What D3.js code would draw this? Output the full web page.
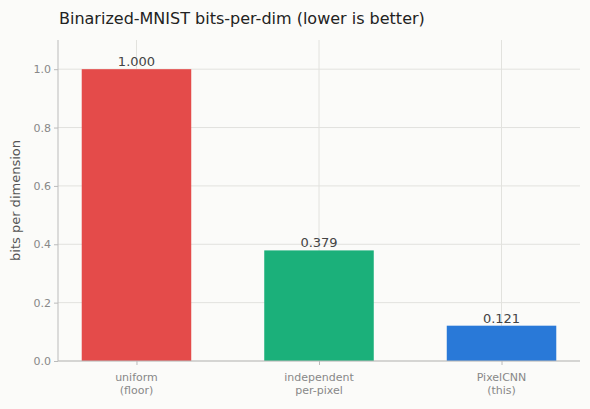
<!DOCTYPE html>
<html><head><meta charset="utf-8">
<script src="https://cdn.jsdelivr.net/npm/d3@7"></script>
<style>body{margin:0;background:#fbfbf9}svg{display:block}</style></head>
<body><svg id="c" width="590" height="409"></svg>
<script>
const categories = [["uniform","(floor)"],["independent","per-pixel"],["PixelCNN","(this)"]];
const values = [1.000, 0.379, 0.121];
const colors = ["#e44b4a","#1bb07a","#2979d8"];
const yTicks = [0,0.2,0.4,0.6,0.8,1.0];

const svg = d3.select("#c");
const L=58,R=580,T=40,B=361;
svg.append("rect").attr("width",590).attr("height",409).attr("fill","#fbfbf9");
const x = d3.scaleLinear().domain([-0.43,2.43]).range([L,R]);
const y = d3.scaleLinear().domain([0,1.1]).range([B,T]);
const g = svg.append("g");
// grid
g.selectAll(".gy").data(yTicks).join("line").attr("x1",L).attr("x2",R)
 .attr("y1",d=>y(d)).attr("y2",d=>y(d)).attr("stroke","#e2e2de").attr("stroke-width",1);
g.selectAll(".gx").data(values).join("line").attr("x1",(d,i)=>x(i)).attr("x2",(d,i)=>x(i))
 .attr("y1",T).attr("y2",B).attr("stroke","#e2e2de").attr("stroke-width",1);
// bars
const bw = x(0.3)-x(-0.3);
g.selectAll(".bar").data(values).join("rect").attr("x",(d,i)=>x(i)-bw/2).attr("width",bw)
 .attr("y",d=>y(d)).attr("height",d=>B-y(d)).attr("fill",(d,i)=>colors[i]);
g.selectAll(".lbl").data(values).join("text").attr("x",(d,i)=>x(i)).attr("y",d=>y(d)-3)
 .attr("text-anchor","middle").attr("font-family","DejaVu Sans").attr("font-size",13)
 .attr("fill","#444").text(d=>d.toFixed(3));
// axes
const ya = svg.append("g").attr("transform",`translate(${L},0)`)
 .call(d3.axisLeft(y).tickValues(yTicks).tickFormat(d3.format(".1f")).tickSize(4));
const xa = svg.append("g").attr("transform",`translate(0,${B})`)
 .call(d3.axisBottom(x).tickValues([0,1,2]).tickFormat("").tickSize(4));
[ya,xa].forEach(a=>{a.selectAll("path,line").attr("stroke","#bbb");
 a.selectAll("text").attr("fill","#888").attr("font-family","DejaVu Sans").attr("font-size",11);});
ya.select(".domain").attr("d",`M0,${T}V${B}`);
xa.select(".domain").attr("d",`M${L},0H${R}`);
categories.forEach((c,i)=>{
  const t=svg.append("text").attr("x",x(i)).attr("y",B+20).attr("text-anchor","middle")
   .attr("font-family","DejaVu Sans").attr("font-size",11).attr("fill","#888");
  c.forEach((s,j)=>t.append("tspan").attr("x",x(i)).attr("dy",j?13:0).text(s));
});
svg.append("text").attr("transform",`translate(20,${(T+B)/2}) rotate(-90)`).attr("text-anchor","middle")
 .attr("font-family","DejaVu Sans").attr("font-size",13).attr("fill","#555").text("bits per dimension");
svg.append("text").attr("x",59).attr("y",24).attr("font-family","DejaVu Sans").attr("font-size",16)
 .attr("fill","#222").text("Binarized-MNIST bits-per-dim (lower is better)");
</script></body></html>
